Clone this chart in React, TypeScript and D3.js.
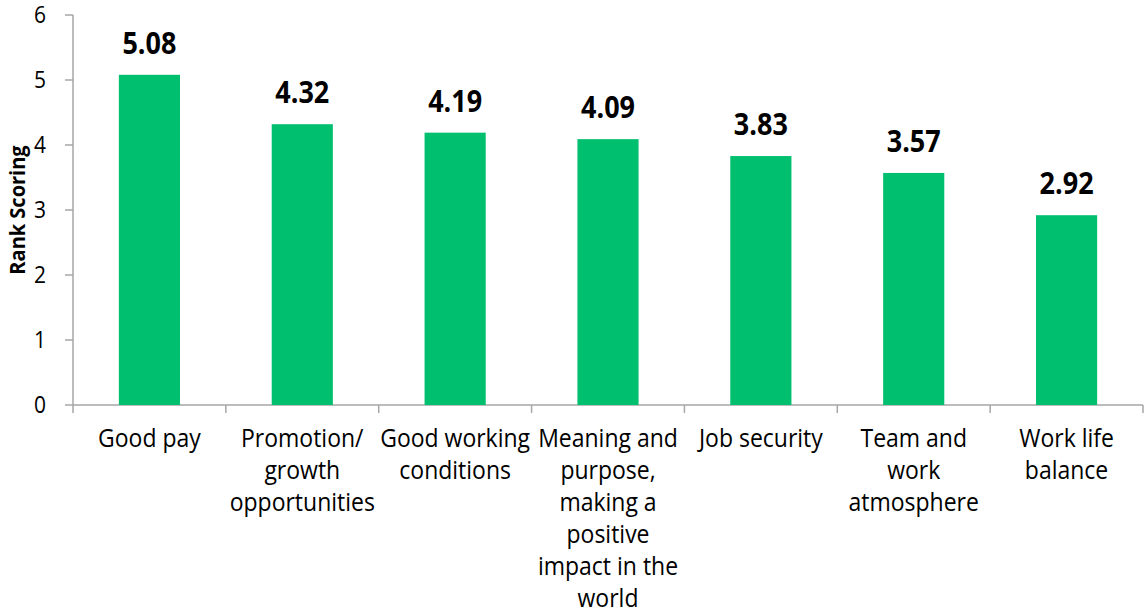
import React from "react";
import * as d3 from "d3";

const categories: string[][] = [
  ["Good pay"],
  ["Promotion/", "growth", "opportunities"],
  ["Good working", "conditions"],
  ["Meaning and", "purpose,", "making a", "positive", "impact in the", "world"],
  ["Job security"],
  ["Team and", "work", "atmosphere"],
  ["Work life", "balance"],
];
const values: number[] = [5.08, 4.32, 4.19, 4.09, 3.83, 3.57, 2.92];
const yTicks: number[] = [0, 1, 2, 3, 4, 5, 6];
const yTitle = "Rank Scoring";

const W = 1145;
const H = 614;
const left = 73;
const right = 1143;
const top = 15;
const bottom = 405;
const FONT = "'Open Sans', sans-serif";
const K = 1.1; // vertical stretch of text

export default function App() {
  const keys = categories.map((_, i) => String(i));
  const x = d3.scaleBand<string>().domain(keys).range([left, right]).paddingInner(0.6).paddingOuter(0.3);
  const xOuter = d3.scaleBand<string>().domain(keys).range([left, right]);
  const y = d3.scaleLinear().domain([0, 6]).range([bottom, top]);
  const axisColor = "#a6a6a6";

  return (
    <svg width={W} height={H} style={{ position: "absolute", left: 0, top: 0 }} fontFamily={FONT}>
      <rect width={W} height={H} fill="#fff" />
      {/* y axis */}
      <line x1={left} x2={left} y1={y(6)} y2={y(0)} stroke={axisColor} strokeWidth={1.5} />
      {yTicks.map((t) => (
        <g key={t}>
          <line x1={left - 8} x2={left} y1={y(t)} y2={y(t)} stroke={axisColor} strokeWidth={1.5} />
          <text transform={`translate(${left - 27},${y(t) + 8}) scale(1,${K})`} textAnchor="end" fontSize={21} fill="#000">
            {t}
          </text>
        </g>
      ))}
      {/* x axis */}
      <line x1={left} x2={right} y1={bottom} y2={bottom} stroke={axisColor} strokeWidth={1.5} />
      {keys.map((k) => (
        <line key={"t" + k} x1={(xOuter(k) as number) + xOuter.bandwidth()} x2={(xOuter(k) as number) + xOuter.bandwidth()} y1={bottom} y2={bottom + 8} stroke={axisColor} strokeWidth={1.5} />
      ))}
      <line x1={left} x2={left} y1={bottom} y2={bottom + 8} stroke={axisColor} strokeWidth={1.5} />
      {/* bars */}
      {values.map((v, i) => (
        <rect key={"b" + i} x={x(String(i))} y={y(v)} width={x.bandwidth()} height={y(0) - y(v)} fill="#00bf6f" />
      ))}
      {/* value labels */}
      {values.map((v, i) => (
        <text key={"v" + i} transform={`translate(${(x(String(i)) as number) + x.bandwidth() / 2},${y(v) - 21}) scale(1,${K})`} textAnchor="middle" fontSize={27} fontWeight="bold" fill="#000">
          {v.toFixed(2)}
        </text>
      ))}
      {/* category labels */}
      {categories.map((lines, i) => (
        <g key={"c" + i} transform={`translate(${(xOuter(String(i)) as number) + xOuter.bandwidth() / 2},447) scale(1,${K})`}>
          <text textAnchor="middle" fontSize={23} fill="#000">
            {lines.map((l, j) => (
              <tspan key={j} x={0} y={(j * 32) / K}>
                {l}
              </tspan>
            ))}
          </text>
        </g>
      ))}
      {/* y title */}
      <text transform={`translate(25,${(top + bottom) / 2}) rotate(-90) scale(1,${K})`} textAnchor="middle" fontSize={20} fontWeight="bold" fill="#000">
        {yTitle}
      </text>
    </svg>
  );
}
